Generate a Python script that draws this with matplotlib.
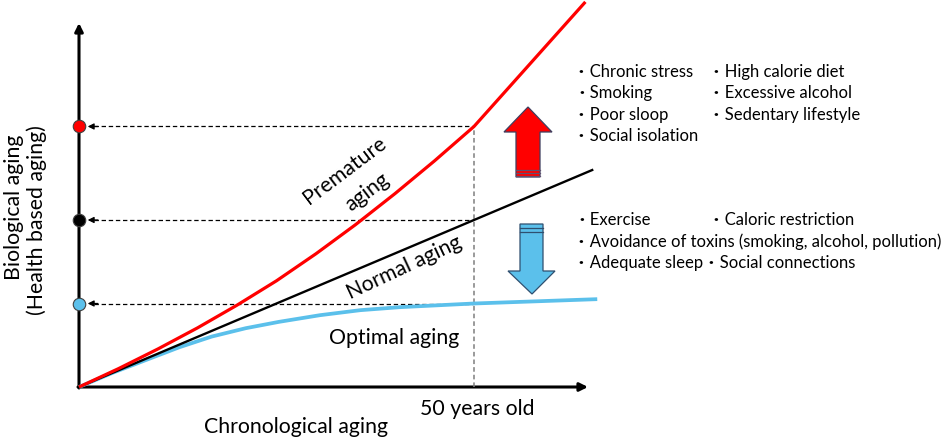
import matplotlib
matplotlib.use("Agg")
import matplotlib.pyplot as plt
from matplotlib.patches import Polygon

# ---------------- data (chronological age in years, biological age in years) -------------
premature_x = [0, 5, 10, 15, 20, 25, 30, 35, 40, 45, 50, 64.1]
premature_y = [0, 5.5, 11.4, 17.7, 24.5, 31.8, 39.9, 48.6, 57.9, 67.7, 78.0, 115.3]

normal_x = [0, 50.0, 65.1]
normal_y = [0, 50.0, 65.1]

optimal_x = [0, 4.2, 8.5, 12.7, 16.8, 21.1, 25.3, 30.5, 35.6, 40.6, 50.0, 65.6]
optimal_y = [0, 4.2, 8.1, 11.9, 15.1, 17.6, 19.5, 21.5, 23.0, 23.9, 25.0, 26.3]

ref_age = 50
bio_at_ref = [78.0, 50.0, 25.0]          # premature, normal, optimal
marker_colors = ["#FF0000", "#000000", "#5BC0EB"]

age_label = "50 years old"
x_label = "Chronological aging"
y_label_1 = "Biological aging"
y_label_2 = "(Health based aging)"

bad_factors_col1 = ["Chronic stress", "Smoking", "Poor sloop", "Social isolation"]
bad_factors_col2 = ["High calorie diet", "Excessive alcohol", "Sedentary lifestyle"]
good_rows = [("Exercise", "Caloric restriction"),
             ("Avoidance of toxins (smoking, alcohol, pollution)", None),
             ("Adequate sleep", "Social connections")]

RED = "#FF0000"
BLUE = "#5BC0EB"
FONT = ["Lato", "Noto Sans CJK JP", "DejaVu Sans"]

# ---------------- figure --------------------------------------------------------------
W, H = 944, 439
fig = plt.figure(figsize=(W / 100, H / 100), dpi=100)

# axis limits chosen so the origin sits at pixel (79,388)
sx, sy = 7.9, 3.34
ox, oy = 79, 388
ax = fig.add_axes([0, 0, 1, 1])
ax.set_xlim(-ox / sx, (W - ox) / sx)
ax.set_ylim(-(H - oy) / sy, oy / sy)
ax.axis("off")

# overlay axes in pixel coordinates for decorations
ov = fig.add_axes([0, 0, 1, 1], zorder=0)
ov.set_xlim(0, W)
ov.set_ylim(H, 0)
ov.axis("off")
ov.patch.set_alpha(0)
ax.set_zorder(1)
ax.patch.set_alpha(0)

# axes arrows
ov.annotate("", xy=(79, 24), xytext=(79, 389),
            arrowprops=dict(arrowstyle="-|>", color="black", lw=2.2, mutation_scale=12,
                            shrinkA=0, shrinkB=0))
ov.annotate("", xy=(588, 388), xytext=(78, 388),
            arrowprops=dict(arrowstyle="-|>", color="black", lw=2.2, mutation_scale=12,
                            shrinkA=0, shrinkB=0))

# reference dashed lines
ax.plot([ref_age, ref_age], [0, bio_at_ref[0]], color="#7F7F7F", lw=1.1,
        dashes=(3, 2), zorder=2)
for v in bio_at_ref:
    ax.plot([1.9, ref_age], [v, v], color="black", lw=0.9, dashes=(3.5, 2.2), zorder=2)
    ax.annotate("", xy=(1.1, v), xytext=(2.4, v),
                arrowprops=dict(arrowstyle="-|>", color="black", lw=0.9,
                                mutation_scale=9, shrinkA=0, shrinkB=0), zorder=2)

# curves
ax.plot(optimal_x, optimal_y, color=BLUE, lw=2.7, solid_capstyle="butt",
        solid_joinstyle="round", zorder=3)
ax.plot(normal_x, normal_y, color="black", lw=1.7, solid_capstyle="butt", zorder=4)
ax.plot(premature_x, premature_y, color=RED, lw=2.3, solid_capstyle="butt",
        solid_joinstyle="round", zorder=5)

# markers on y-axis
for v, c in zip(bio_at_ref, marker_colors):
    ax.plot([0], [v], marker="o", ms=9, color=c, mec="#404040", mew=0.8,
            zorder=6, clip_on=False)

# up arrow (red)
up = Polygon([(528, 108), (552, 133), (540, 133), (540, 178), (516, 178),
              (516, 133), (504, 133)], closed=True, fc=RED, ec="#3F3F5F", lw=0.9)
ov.add_patch(up)
for yy in (170.5, 174.0, 177.0):
    ov.plot([516, 540], [yy, yy], color="#5F4F6F", lw=0.9)

# down arrow (blue)
dn = Polygon([(520, 225), (543, 225), (543, 272), (555, 272), (532, 295),
              (508, 272), (520, 272)], closed=True, fc=BLUE, ec="#2F4F6F", lw=0.9)
ov.add_patch(dn)
for yy in (228.5, 232.5):
    ov.plot([520, 543], [yy, yy], color="#2F4F6F", lw=0.9)

# labels
MF = 15.3
ov.text(296, 427, x_label, ha="center", va="center", fontsize=MF, family=FONT)
ov.text(477, 409, age_label, ha="center", va="center", fontsize=MF, family=FONT)
ov.text(14, 207, y_label_1, ha="center", va="center", rotation=90, fontsize=MF, family=FONT)
ov.text(37, 220, y_label_2, ha="center", va="center", rotation=90, fontsize=MF, family=FONT)

ov.text(345, 171, "Premature", ha="center", va="center", rotation=37,
        rotation_mode="anchor", fontsize=MF, family=FONT)
ov.text(367, 192, "aging", ha="center", va="center", rotation=37,
        rotation_mode="anchor", fontsize=MF, family=FONT)
ov.text(404, 268, "Normal aging", ha="center", va="center", rotation=25,
        rotation_mode="anchor", fontsize=MF, family=FONT)
ov.text(394, 338, "Optimal aging", ha="center", va="center", fontsize=MF, family=FONT)

# factor lists
LF = 12
for i, t in enumerate(bad_factors_col1):
    ov.text(573, 72 + i * 21.3, "・" + t, ha="left", va="center", fontsize=LF, family=FONT)
for i, t in enumerate(bad_factors_col2):
    ov.text(708, 72 + i * 21.3, "・" + t, ha="left", va="center", fontsize=LF, family=FONT)
good_x2 = [708, None, 703]
for i, (a, b) in enumerate(good_rows):
    ov.text(573, 220 + i * 21.5, "・" + a, ha="left", va="center", fontsize=LF, family=FONT)
    if b:
        ov.text(good_x2[i], 220 + i * 21.5, "・" + b, ha="left", va="center",
                fontsize=LF, family=FONT)

fig.savefig("out.png", dpi=100, facecolor="white")
